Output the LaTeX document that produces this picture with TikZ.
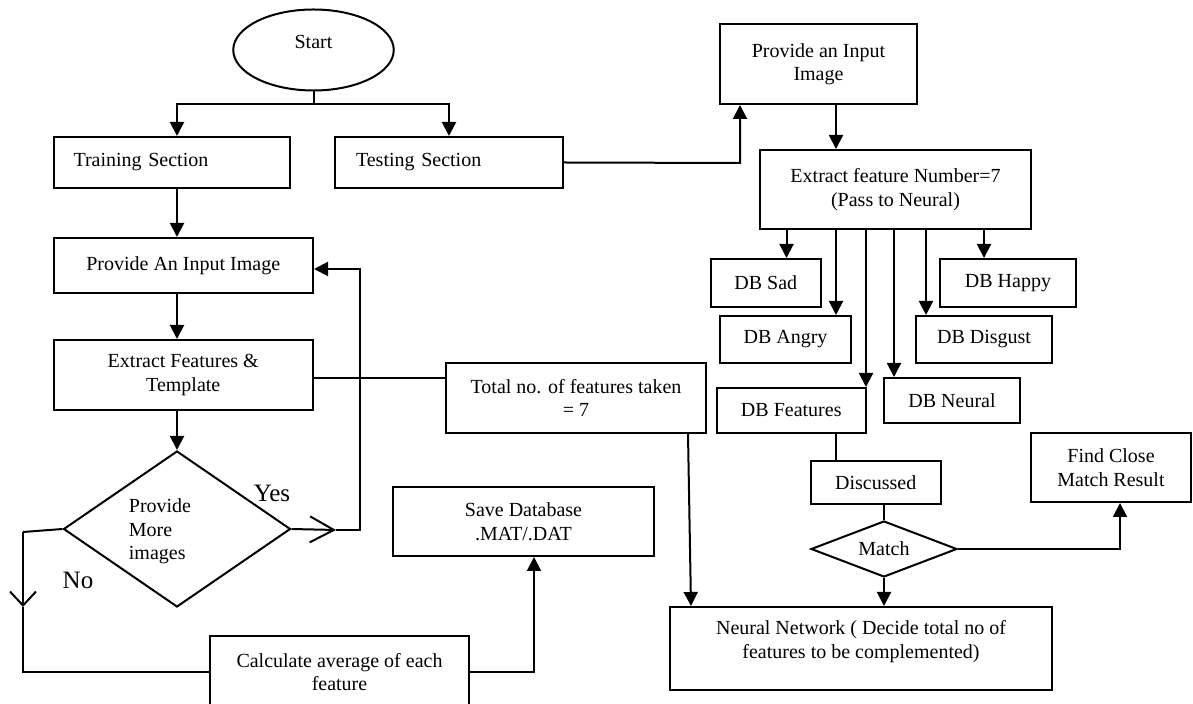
\documentclass[tikz,border=0pt]{standalone}
\usepackage{fontspec}
\setmainfont{Liberation Serif}
\usetikzlibrary{arrows.meta,shapes.geometric}
\begin{document}
\begin{tikzpicture}[x=0.5pt,y=-0.5pt,line width=1pt,
  font=\fontsize{10}{11.75}\selectfont,
  box/.style={draw,rectangle,inner sep=0pt,align=center},
  arr/.style={-{Triangle[length=7pt,width=7pt]}},
  yesarr/.style={-{Straight Barb[length=12pt,width=13pt]}},
  noarr/.style={-{Straight Barb[length=7pt,width=13pt]}},
  tag/.style={font=\fontsize{12.5}{14}\selectfont}]
\path[use as bounding box,clip] (0,0) rectangle (1193,704);

% ---- training branch (left) ----
\node[draw,ellipse,minimum width=80.25pt,minimum height=40.5pt,inner sep=0pt,
      label={[yshift=4pt]center:Start}] (start) at (313.5,50) {};
\node[box,minimum width=118.25pt,minimum height=25.5pt,text width=98.25pt,
      inner xsep=10pt,align=left] (train) at (171.75,162.5) {Training Section};
\node[box,minimum width=114pt,minimum height=25.5pt,text width=93pt,
      inner xsep=10.5pt,align=left] (test) at (449,162.5) {Testing Section};
\node[box,minimum width=129.75pt,minimum height=27.5pt] (prov) at (183.25,265.5) {Provide An Input Image};
\node[box,minimum width=129.75pt,minimum height=35pt] (extL) at (183.25,375) {Extract Features \&\\Template};
\node[draw,diamond,minimum width=113.5pt,minimum height=78pt,inner sep=0pt,
      label={[align=left,xshift=-8.5pt,yshift=-1.25pt]center:Provide\\More\\images}] (more) at (177,529) {};
\node[box,minimum width=130pt,minimum height=35pt] (total) at (576,398) {Total no. of features taken\\= 7};
\node[box,minimum width=130.5pt,minimum height=34.5pt] (save) at (523.5,521.5) {Save Database\\.MAT/.DAT};
\node[box,minimum width=129.5pt,minimum height=36pt] (calc) at (339.5,672) {Calculate average of each\\feature};
\node[tag] (yes) at (272,493) {Yes};
\node[tag] (no) at (78,580) {No};

% ---- testing branch (right) ----
\node[box,minimum width=98.5pt,minimum height=40pt] (inR) at (818.5,64) {Provide an Input\\Image};
\node[box,minimum width=135.5pt,minimum height=39.5pt] (extR) at (895.5,189.5) {Extract feature Number=7\\(Pass to Neural)};
\node[box,minimum width=54.75pt,minimum height=24pt] (sad) at (765.75,283) {DB Sad};
\node[box,minimum width=65.5pt,minimum height=23.5pt] (angry) at (785.5,339.5) {DB Angry};
\node[box,minimum width=74.75pt,minimum height=22.5pt] (feat) at (791.25,410.5) {DB Features};
\node[box,minimum width=68pt,minimum height=22.5pt] (neural) at (952,400.5) {DB Neural};
\node[box,minimum width=68pt,minimum height=23.5pt] (disgust) at (984,339.5) {DB Disgust};
\node[box,minimum width=68pt,minimum height=24pt] (happy) at (1008,283) {DB Happy};
\node[box,minimum width=65pt,minimum height=21.5pt] (disc) at (875.75,482.5) {Discussed};
\node[draw,diamond,aspect=2.6,minimum width=73pt,minimum height=28pt,inner sep=0pt] (match) at (884,549) {Match};
\node[box,minimum width=80pt,minimum height=34.5pt] (find) at (1111,467.5) {Find Close\\Match Result};
\node[box,minimum width=191pt,minimum height=41.5pt,
      label={[align=center,yshift=3.5pt]center:Neural Network ( Decide total no of\\features to be complemented)}] (nn) at (861,648.5) {};

% ---- routing points ----
\coordinate (cL) at (177,0);
\coordinate (stj) at (313.5,104);
\coordinate (tturn) at (740,163);
\coordinate (cR) at (836,0);
\coordinate (xSad) at (786.5,0);
\coordinate (xFeat) at (866,0);
\coordinate (xNeu) at (894,0);
\coordinate (xDis) at (926,0);
\coordinate (xHap) at (984,0);
\coordinate (xDisc) at (835.6,0);
\coordinate (xFind) at (1120,0);
\coordinate (xTotA) at (688,0);
\coordinate (xTotB) at (691,0);
\coordinate (xSave) at (534,0);
\coordinate (yExt) at (0,378);
\coordinate (yLoop) at (0,269);
\coordinate (yestip) at (336,530);
\coordinate (yesturn) at (360,530);
\coordinate (nocorner) at (23,532);
\coordinate (notip) at (23,607);

% ---- connectors ----
\draw (start.south) -- (stj);
\draw[arr] (stj) -| (cL |- train.north);
\draw[arr] (stj) -| (test.north);
\draw[arr] (cL |- train.south) -- (cL |- prov.north);
\draw[arr] (cL |- prov.south) -- (cL |- extL.north);
\draw[arr] (more.north |- extL.south) -- (more.north);
\draw (extL.east |- yExt) -- (total.west |- yExt);
\draw[yesarr] (more.east) -- (yestip);
\draw[arr] (yestip) -- (yesturn) |- (prov.east |- yLoop);
\draw (more.west) -- (nocorner);
\draw[noarr] (nocorner) -- (notip);
\draw (notip) |- (calc.west);
\draw[arr] (calc.east) -| (xSave |- save.south);
\draw[arr] (xTotA |- total.south) -- (xTotB |- nn.north);

\draw[arr] (test.east) -- (tturn) -- (tturn |- inR.south);
\draw[arr] (cR |- inR.south) -- (cR |- extR.north);
\draw[arr] (xSad |- extR.south) -- (xSad |- sad.north);
\draw[arr] (cR |- extR.south) -- (cR |- angry.north);
\draw[arr] (xFeat |- extR.south) -- (xFeat |- feat.north);
\draw[arr] (xNeu |- extR.south) -- (xNeu |- neural.north);
\draw[arr] (xDis |- extR.south) -- (xDis |- disgust.north);
\draw[arr] (xHap |- extR.south) -- (xHap |- happy.north);
\draw (xDisc |- feat.south) -- (xDisc |- disc.north);
\draw (match.north |- disc.south) -- (match.north);
\draw[arr] (match.east) -| (xFind |- find.south);
\draw[arr] (match.south) -- (match.south |- nn.north);
\end{tikzpicture}
\end{document}
